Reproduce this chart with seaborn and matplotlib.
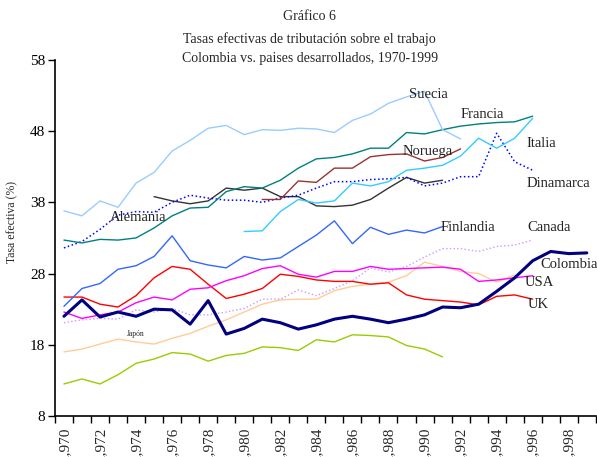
import numpy as np
import pandas as pd
import matplotlib
matplotlib.use("Agg")
import matplotlib.pyplot as plt
from matplotlib.ticker import FixedLocator, NullFormatter
import seaborn as sns

# Datos (tasa efectiva, %)
suecia = [36.8, 36.1, 38.2, 37.3, 40.7, 42.2, 45.2, 46.7, 48.4, 48.8, 47.5, 48.2, 48.1,
          48.4, 48.3, 47.8, 49.5, 50.4, 51.9, 52.8, 53.6, 48.2, 46.9]            # 1970-1992
francia = [32.7, 32.3, 32.8, 32.7, 33.0, 34.4, 36.1, 37.2, 37.3, 39.5, 40.2, 40.0, 41.1,
           42.8, 44.1, 44.3, 44.8, 45.6, 45.6, 47.8, 47.6, 48.2, 48.7, 49.0, 49.2, 49.3, 50.1]  # 1970-1996
italia = [33.9, 34.0, 36.7, 38.4, 37.9, 38.2, 40.7, 40.3, 40.9, 42.5, 42.8, 43.2, 44.5,
          47.0, 45.6, 47.0, 49.8]                                                 # 1980-1996
noruega = [38.4, 38.4, 41.0, 40.8, 42.8, 42.8, 44.4, 44.7, 44.8, 43.8, 44.3, 45.5]  # 1981-1992
dinamarca = [31.6, 32.5, 34.2, 36.2, 36.7, 36.6, 38.0, 39.0, 38.6, 38.3, 38.3, 38.0, 38.6,
             39.0, 40.0, 40.9, 40.9, 41.2, 41.3, 41.5, 40.3, 40.7, 41.6, 41.6, 47.7, 43.7, 42.5]  # 1970-1996
gris = [38.8, 38.2, 37.8, 38.2, 40.0, 39.7, 40.0, 38.8, 38.8, 37.5, 37.4, 37.6, 38.4,
        40.0, 41.5, 40.7, 41.1]                                                   # 1975-1991
finlandia = [23.4, 25.9, 26.6, 28.6, 29.1, 30.4, 33.3, 29.8, 29.2, 28.8, 30.4, 29.9, 30.2,
             31.8, 33.4, 35.4, 32.2, 34.5, 33.5, 34.1, 33.7, 34.6]               # 1970-1991
usa = [22.6, 21.7, 22.2, 22.6, 23.9, 24.7, 24.3, 25.8, 26.0, 27.0, 27.7, 28.7, 29.1, 27.9,
       27.5, 28.3, 28.3, 29.0, 28.6, 28.7, 28.8, 28.9, 28.6, 26.9, 27.1, 27.4, 27.7]  # 1970-1996
uk = [24.7, 24.7, 23.7, 23.3, 24.9, 27.4, 29.0, 28.6, 26.5, 24.5, 25.1, 25.9, 27.9, 27.6,
      27.1, 26.9, 26.9, 26.5, 26.7, 25.0, 24.4, 24.2, 24.0, 23.6, 24.8, 25.0, 24.4]   # 1970-1996
colombia = [22.0, 24.3, 21.9, 22.6, 22.0, 23.0, 22.9, 20.9, 24.2, 19.5, 20.3, 21.6, 21.1,
            20.2, 20.8, 21.6, 22.0, 21.6, 21.1, 21.6, 22.2, 23.3, 23.2, 23.7, 25.5, 27.4,
            29.8, 31.1, 30.8, 30.9]                                               # 1970-1999
canada = [21.1, 21.5, 21.7, 21.6, 22.9, 22.6, 23.1, 22.2, 22.2, 22.6, 23.1, 24.4, 24.4,
          25.7, 24.9, 25.9, 27.0, 28.8, 28.2, 29.0, 30.3, 31.5, 31.5, 31.1, 31.8, 32.0, 32.7]  # 1970-1996
japon = [17.0, 17.4, 18.1, 18.8, 18.4, 18.1, 18.9, 19.6, 20.6, 21.5, 22.6, 23.7, 24.3,
         24.4, 24.4, 25.6, 26.2, 26.5, 26.8, 27.7, 29.6, 29.0, 28.3, 28.0, 26.8, 27.8]  # 1970-1995
verde = [12.5, 13.2, 12.5, 13.8, 15.4, 16.0, 16.9, 16.7, 15.7, 16.5, 16.8, 17.7, 17.6,
         17.2, 18.7, 18.4, 19.4, 19.3, 19.1, 17.9, 17.4, 16.3]                   # 1970-1991

# (nombre, datos, año inicial, color, grosor, estilo)
series = [
    ("verde", verde, 1970, "#99CC00", 1.0, "-"),
    ("Japón", japon, 1970, "#FFCC99", 1.0, "-"),
    ("Canada", canada, 1970, "#CC99FF", 1.0, ":"),
    ("UK", uk, 1970, "#FF0000", 1.0, "-"),
    ("USA", usa, 1970, "#FF00FF", 1.0, "-"),
    ("Finlandia", finlandia, 1970, "#3366FF", 1.0, "-"),
    ("gris", gris, 1975, "#333333", 1.0, "-"),
    ("Dinamarca", dinamarca, 1970, "#0000FF", 1.1, ":"),
    ("Noruega", noruega, 1981, "#993333", 1.0, "-"),
    ("Italia", italia, 1980, "#33CCFF", 1.0, "-"),
    ("Francia", francia, 1970, "#008080", 1.0, "-"),
    ("Suecia", suecia, 1970, "#99CCFF", 1.0, "-"),
    ("Colombia", colombia, 1970, "#000080", 2.2, "-"),
]

sns.set_style("ticks")
plt.rcParams['font.family'] = ['Liberation Serif', 'DejaVu Serif']

fig = plt.figure(figsize=(5.97, 4.57), dpi=100)
ax = fig.add_axes([0.092, 0.0897, 0.906, 0.7793])

for nombre, datos, inicio, color, lw, ls in series:
    anios = np.arange(inicio, inicio + len(datos))
    sns.lineplot(x=anios, y=datos, color=color, linewidth=lw, linestyle=ls, ax=ax)

ax.set_xlim(1969.5, 1999.5)
ax.set_ylim(8, 58)
ax.set_yticks(np.arange(8, 59, 10))
ax.tick_params(axis='y', direction='out', length=5, width=1, labelsize=11, colors='black', pad=2)

# marcas en los límites de categoría, etiquetas en los años pares
ax.xaxis.set_major_locator(FixedLocator(np.arange(1969.5, 2000, 1)))
ax.xaxis.set_major_formatter(NullFormatter())
pares = np.arange(1970, 1999, 2)
ax.xaxis.set_minor_locator(FixedLocator(pares))
ax.set_xticklabels([f"{a:,}" for a in pares], minor=True, rotation=90)
ax.tick_params(axis='x', which='major', direction='out', length=5, width=1, colors='black')
ax.tick_params(axis='x', which='minor', length=0, labelsize=11, pad=8)

for s in ['top', 'right']:
    ax.spines[s].set_visible(False)
for s in ['left', 'bottom']:
    ax.spines[s].set_color('black')
    ax.spines[s].set_linewidth(1.2)

ax.set_ylabel("Tasa efectiva (%)", fontsize=8.5)
ax.yaxis.set_label_coords(-0.068, 0.545)

etiquetas = [
    ("Suecia", 1990.2, 53.1), ("Francia", 1993.2, 50.3), ("Italia", 1996.5, 46.3),
    ("Noruega", 1990.2, 45.1), ("Dinamarca", 1997.4, 40.7), ("Alemania", 1974.1, 35.8),
    ("Finlandia", 1992.4, 34.4), ("Canada", 1996.9, 34.4), ("Colombia", 1998.0, 29.3),
    ("USA", 1996.4, 26.7), ("UK", 1996.3, 23.6),
]
for texto, x, y in etiquetas:
    ax.text(x, y, texto, fontsize=10.5, ha='center', va='center', color='#222222')
ax.text(1974.0, 19.5, "Japón", fontsize=5.5, ha='center', va='center', color='#222222')

fig.text(0.519, 0.963, "Gráfico 6", ha='center', va='center', fontsize=10)
fig.text(0.519, 0.915, "Tasas efectivas de tributación sobre el trabajo", ha='center', va='center', fontsize=10)
fig.text(0.519, 0.873, "Colombia vs. paises desarrollados, 1970-1999", ha='center', va='center', fontsize=10)

fig.savefig("out.png", dpi=100)
